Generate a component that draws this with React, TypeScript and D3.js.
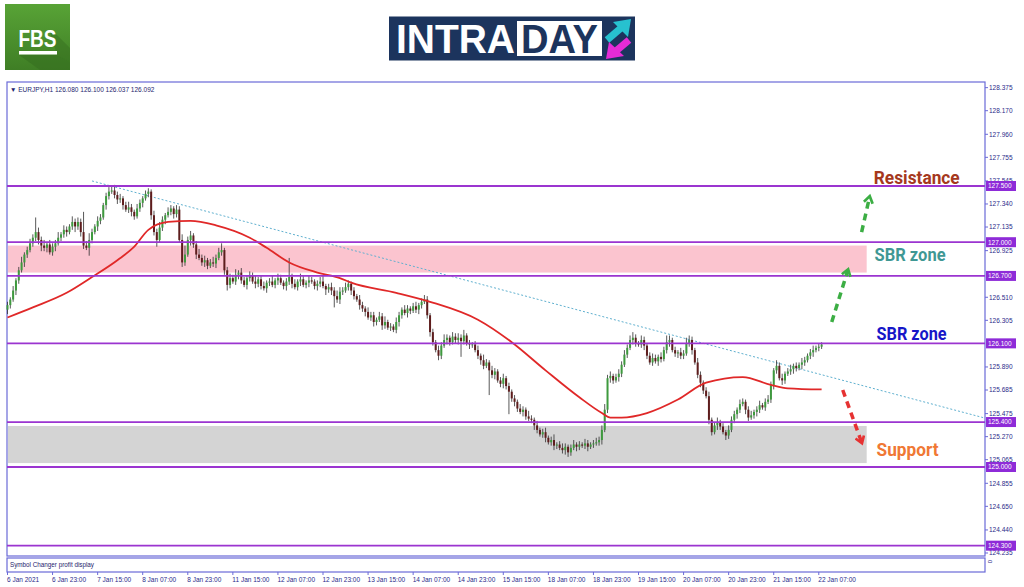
import React from "react";
import * as d3 from "d3";

// ---------- DATA ----------
const symbolTitle = "▼ EURJPY,H1  126.080 126.100 126.037 126.092";
const firstOpen = 126.4;
const closes = [
  126.44,126.49,126.57,126.66,126.75,126.82,126.89,126.93,126.99,127.04,
  127.09,127.02,126.97,126.95,126.98,126.91,126.96,126.99,127.04,127.07,
  127.11,127.09,127.14,127.18,127.14,127.18,127.09,126.97,126.95,127.02,
  127.09,127.14,127.19,127.22,127.33,127.41,127.45,127.46,127.42,127.38,
  127.39,127.33,127.29,127.31,127.27,127.23,127.30,127.35,127.39,127.43,
  127.45,127.24,127.09,127.02,127.13,127.20,127.24,127.27,127.30,127.25,
  127.29,127.02,126.82,126.89,127.02,127.06,126.98,126.89,126.86,126.82,
  126.84,126.79,126.82,126.81,126.86,126.91,126.93,126.75,126.62,126.68,
  126.65,126.71,126.73,126.66,126.62,126.68,126.70,126.65,126.63,126.67,
  126.61,126.59,126.64,126.65,126.62,126.66,126.68,126.64,126.61,126.65,
  126.69,126.63,126.60,126.65,126.67,126.62,126.64,126.66,126.65,126.61,
  126.63,126.65,126.61,126.58,126.60,126.57,126.52,126.49,126.56,126.57,
  126.60,126.63,126.57,126.52,126.49,126.44,126.41,126.38,126.33,126.35,
  126.29,126.31,126.34,126.26,126.29,126.24,126.25,126.22,126.29,126.35,
  126.40,126.37,126.41,126.39,126.43,126.40,126.44,126.47,126.49,126.35,
  126.20,126.11,126.04,125.99,126.08,126.13,126.15,126.11,126.16,126.13,
  126.15,126.12,126.17,126.10,126.09,126.09,126.04,125.99,125.95,125.90,
  125.93,125.86,125.82,125.85,125.77,125.74,125.79,125.72,125.67,125.61,
  125.58,125.52,125.49,125.51,125.45,125.43,125.42,125.37,125.33,125.29,
  125.31,125.26,125.22,125.24,125.19,125.20,125.17,125.15,125.18,125.13,
  125.17,125.20,125.18,125.20,125.19,125.21,125.18,125.20,125.21,125.22,
  125.24,125.33,125.51,125.79,125.81,125.77,125.80,125.83,125.91,126.00,
  126.06,126.13,126.15,126.10,126.09,126.13,126.08,125.99,125.93,125.97,
  125.94,125.98,125.96,126.04,126.11,126.13,126.04,126.01,126.02,125.99,
  126.01,126.10,126.13,126.04,125.93,125.82,125.75,125.68,125.63,125.42,
  125.31,125.37,125.40,125.36,125.31,125.28,125.33,125.42,125.47,125.51,
  125.56,125.58,125.51,125.44,125.46,125.49,125.51,125.55,125.53,125.58,
  125.60,125.73,125.86,125.90,125.79,125.77,125.83,125.85,125.87,125.90,
  125.88,125.91,125.93,125.95,125.99,126.02,126.04,126.06,126.07,126.09,
];
// wick lengths beyond the body, in hundredths of a yen
const wickUp = [
  3,2,4,2,3,5,2,3,4,3, 13,4,3,5,2,4,3,3,5,2, 4,3,2,5,3,4,3,18,4,6, 3,2,4,3,2,3,4,4,5,3,
  4,2,3,5,3,2,4,3,2,3, 3,2,4,3,5,3,2,4,3,2, 4,3,5,8,3,4,2,3,5,3, 4,2,3,5,3,4,6,2,3,4,
  3,5,2,4,3,2,4,3,5,2, 3,4,2,3,5,2,4,3,2,3, 17,3,4,2,5,3,2,4,3,2, 3,4,5,2,3,4,3,5,4,3,
  4,3,2,3,2,4,3,2,4,3, 3,2,4,3,5,2,3,2,4,3, 2,4,3,2,3,4,2,3,4,3, 2,3,2,4,3,5,3,2,4,3,
  4,3,5,2,3,2,3,4,2,5, 3,2,4,3,2,3,4,2,3,2, 3,2,4,3,2,5,3,2,4,2, 3,4,2,3,5,2,3,4,3,2,
  3,4,2,3,2,4,3,2,3,4, 3,4,5,3,4,2,3,4,3,4, 3,4,5,3,2,4,3,2,3,4, 3,2,4,3,6,4,2,3,2,4,
  3,5,4,3,2,4,3,2,3,4, 2,3,4,2,3,2,4,3,3,2, 4,3,2,3,4,2,3,4,2,3, 4,3,2,5,3,4,2,3,4,2,
  3,2,4,3,2,3,4,2,3,2,
];
const wickDown = [
  4,3,2,4,3,2,4,3,2,3, 3,4,5,3,4,2,3,4,2,3, 3,4,2,3,5,3,4,3,2,7, 3,2,4,3,2,4,3,2,3,4,
  3,4,2,3,4,3,2,3,4,2, 3,4,3,6,2,3,4,2,3,4, 3,2,4,3,2,5,3,4,2,3, 4,3,2,3,4,2,3,4,5,3,
  2,3,4,3,2,4,3,2,4,3, 3,2,4,3,2,3,4,2,3,4, 3,4,2,3,4,2,3,4,2,3, 4,3,2,5,3,4,10,3,4,3,
  2,3,4,3,2,4,3,4,2,3, 4,3,2,4,3,2,3,2,3,4, 3,2,4,3,2,3,4,3,2,3, 4,3,2,4,3,2,4,3,2,3,
  4,14,3,2,4,3,2,3,4,3, 2,22,3,4,2,3,4,3,20,3, 4,3,2,4,3,2,3,4,3,2, 3,4,2,3,4,3,2,3,4,4,
  3,2,4,3,2,3,4,2,3,2, 3,4,2,3,4,3,2,4,3,2, 3,2,4,3,2,3,4,3,2,3, 2,4,3,2,3,4,2,3,4,3,
  3,2,3,4,2,3,4,3,2,4, 3,2,4,3,2,4,3,2,3,4, 3,2,4,3,2,3,4,3,2,3, 2,3,4,3,2,4,3,2,3,4,
  3,2,4,3,2,3,4,2,3,2,
];
const maBars = [0,9,21,30,39,45,50,57,65,74,86,92,100,110,118,122,138,150,167,179,191,203,211,214,218,227,238,248,261,271,277,289];
const maValues = [126.33,126.42,126.55,126.69,126.84,126.96,127.11,127.18,127.19,127.15,127.04,126.95,126.82,126.73,126.68,126.64,126.55,126.47,126.31,126.11,125.86,125.62,125.48,125.44,125.44,125.48,125.60,125.75,125.80,125.73,125.70,125.69];
const trendBars = [30, 347];
const trendPrices = [127.545, 125.435];
const levels = [127.5, 127.0, 126.7, 126.1, 125.4, 125.0, 124.3];
const levelLabels = ["127.500","127.000","126.700","126.100","125.400","125.000","124.300"];
const priceTicks = [128.375,128.17,127.96,127.755,127.545,127.34,127.135,126.925,126.51,126.305,125.89,125.685,125.475,125.27,125.065,124.855,124.65,124.44,124.235];
const priceTickLabels = ["128.375","128.170","127.960","127.755","127.545","127.340","127.135","126.925","126.510","126.305","125.890","125.685","125.475","125.270","125.065","124.855","124.650","124.440","124.235"];
const timeTickBars = [0,16,32,48,64,80,96,112,128,144,160,176,192,208,224,240,256,272,288];
const timeLabels = ["6 Jan 2021","6 Jan 23:00","7 Jan 15:00","8 Jan 07:00","8 Jan 23:00","11 Jan 15:00","12 Jan 07:00","12 Jan 23:00","13 Jan 15:00","14 Jan 07:00","14 Jan 23:00","15 Jan 15:00","18 Jan 07:00","18 Jan 23:00","19 Jan 15:00","20 Jan 07:00","20 Jan 23:00","21 Jan 15:00","22 Jan 07:00"];
const sbrZoneUpper = [126.73, 126.97];
const supportZone = [125.035, 125.365];
const zoneEndBar = 305;
const upArrows = [
  { from: [292.6, 126.29], to: [298.3, 126.75] },
  { from: [303.2, 127.09], to: [306.0, 127.40] },
];
const downArrow = { from: [296.5, 125.685], to: [303.2, 125.22] };
const annotations = [
  { text: "Resistance", bar: 307.5, price: 127.515, color: "#a5381d", len: 86 },
  { text: "SBR zone", bar: 307.8, price: 126.83, color: "#3f9894", len: 71 },
  { text: "SBR zone", bar: 308.5, price: 126.13, color: "#1616c8", len: 70 },
  { text: "Support", bar: 308.5, price: 125.1, color: "#f07834", len: 62 },
];

// ---------- LAYOUT ----------
const W = 1024, H = 587;
const L = 7, R = 985, T = 82, B = 556;

export default function App() {
  const x = d3.scaleLinear().domain([0, 347]).range([7.5, 985]);
  const y = d3.scaleLinear().domain([125.0, 127.5]).range([467, 186]);

  const candles = closes.map((c, i) => {
    const o = i === 0 ? firstOpen : closes[i - 1];
    const hi = Math.max(o, c) + wickUp[i] / 100;
    const lo = Math.min(o, c) - wickDown[i] / 100;
    return { i, o, c, hi, lo };
  });

  const maLine = d3
    .line<number>()
    .x((_, i) => x(maBars[i]))
    .y((v) => y(v))
    .curve(d3.curveMonotoneX)(maValues) || "";

  const fontAxis = "'Liberation Sans', Arial, sans-serif";
  const axisColor = "#6a6ad8";
  const textColor = "#2a2a8a";
  const levelColor = "#9b35d0";
  const boxColor = "#8e2bd8";

  return (
    <div style={{ position: "absolute", left: 0, top: 0, width: W, height: H, background: "#fff" }}>
      <svg width={W} height={H} style={{ display: "block" }}>
        <defs>
          <linearGradient id="fbsg" x1="0" y1="0" x2="0" y2="1">
            <stop offset="0" stopColor="#58a336" />
            <stop offset="1" stopColor="#3f7e25" />
          </linearGradient>
          <marker id="headG" viewBox="0 0 10 10" refX="6" refY="5" markerWidth="3.2" markerHeight="3.2" orient="auto">
            <path d="M1,1 L7,5 L1,9" fill="none" stroke="#3cae44" strokeWidth="2.4" />
          </marker>
          <marker id="headR" viewBox="0 0 10 10" refX="6" refY="5" markerWidth="3.2" markerHeight="3.2" orient="auto">
            <path d="M1,1 L7,5 L1,9" fill="none" stroke="#e63232" strokeWidth="2.4" />
          </marker>
        </defs>
        <rect x={0} y={0} width={W} height={H} fill="#fff" />

        {/* FBS logo */}
        <rect x={5} y={4} width={65} height={66} fill="url(#fbsg)" />
        <polygon points="19,55 57,55 70,62 70,70 40,70" fill="#356d1f" opacity={0.55} />
        <polygon points="50,32 57,35 70,48 70,62 57,55" fill="#356d1f" opacity={0.45} />
        <text x={37.5} y={47} textAnchor="middle" fontFamily="'Liberation Sans Narrow', 'Liberation Sans', Arial, sans-serif" fontWeight={700} fontSize={23} fill="#fff" textLength={38} lengthAdjust="spacingAndGlyphs">FBS</text>
        <rect x={19} y={51} width={38} height={3.5} fill="#fff" />

        {/* INTRADAY banner */}
        <rect x={389} y={16.5} width={246} height={44} fill="#1c345d" />
        <text x={396} y={53} fontFamily="'Liberation Sans', Arial, sans-serif" fontWeight={700} fontSize={41} fill="#fff" textLength={119} lengthAdjust="spacingAndGlyphs">INTRA</text>
        <rect x={517} y={21} width={85} height={35} fill="#fff" />
        <text x={521} y={53} fontFamily="'Liberation Sans', Arial, sans-serif" fontWeight={700} fontSize={41} fill="#1c345d" textLength={77} lengthAdjust="spacingAndGlyphs">DAY</text>
        <line x1={607} y1={40} x2={621} y2={28} stroke="#27c1cf" strokeWidth={7} />
        <polygon points="631,19 613,22 628,37" fill="#27c1cf" />
        <line x1={629} y1={40} x2={616} y2={51} stroke="#e52bd6" strokeWidth={7} />
        <polygon points="606,59 609,42 624,56" fill="#e52bd6" />

        {/* main panel */}
        <rect x={L} y={T} width={R - L} height={B - T} fill="#fff" stroke={axisColor} strokeWidth={1.2} />
        <text x={10} y={91.5} fontFamily={fontAxis} fontSize={6.5} fill="#1e1e6e">{symbolTitle}</text>

        {/* zones */}
        <rect x={L + 1} y={y(sbrZoneUpper[1])} width={x(zoneEndBar) - L - 1} height={y(sbrZoneUpper[0]) - y(sbrZoneUpper[1])} fill="#fbc4cf" />
        <rect x={L + 1} y={y(supportZone[1])} width={x(zoneEndBar) - L - 1} height={y(supportZone[0]) - y(supportZone[1])} fill="#d4d4d4" />

        {/* trendline */}
        <line x1={x(trendBars[0])} y1={y(trendPrices[0])} x2={x(trendBars[1])} y2={y(trendPrices[1])} stroke="#5fb0cf" strokeWidth={1} strokeDasharray="2,2" />

        {/* candles */}
        {candles.map((d) => {
          const cx = x(d.i);
          const up = d.c >= d.o;
          const top = y(Math.max(d.o, d.c));
          const bot = y(Math.min(d.o, d.c));
          return (
            <g key={d.i}>
              <line x1={cx} x2={cx} y1={y(d.hi)} y2={y(d.lo)} stroke="#2f2f2f" strokeWidth={0.8} />
              <rect x={cx - 1} y={top} width={2} height={Math.max(0.8, bot - top)} fill={up ? "#3e9a3e" : "#5e1d1d"} />
            </g>
          );
        })}

        {/* moving average */}
        <path d={maLine} fill="none" stroke="#e02828" strokeWidth={1.8} />

        {/* horizontal levels */}
        {levels.map((lv) => (
          <line key={lv} x1={L} x2={R} y1={y(lv)} y2={y(lv)} stroke={levelColor} strokeWidth={1.8} />
        ))}

        {/* annotation arrows */}
        {upArrows.map((a, k) => (
          <line key={k} x1={x(a.from[0])} y1={y(a.from[1])} x2={x(a.to[0])} y2={y(a.to[1])} stroke="#3cae44" strokeWidth={3.5} strokeDasharray="7,5" markerEnd="url(#headG)" />
        ))}
        <line x1={x(downArrow.from[0])} y1={y(downArrow.from[1])} x2={x(downArrow.to[0])} y2={y(downArrow.to[1])} stroke="#e63232" strokeWidth={3.5} strokeDasharray="7,5" markerEnd="url(#headR)" />

        {/* annotation texts */}
        {annotations.map((a, k) => (
          <text key={k} x={x(a.bar)} y={y(a.price)} fontFamily="Roboto, 'Noto Sans', sans-serif" fontWeight={700} fontSize={18} fill={a.color} textLength={a.len} lengthAdjust="spacingAndGlyphs">{a.text}</text>
        ))}

        {/* right price axis */}
        {priceTicks.map((p, k) => (
          <g key={p}>
            <line x1={R} x2={R + 3} y1={y(p)} y2={y(p)} stroke={axisColor} strokeWidth={1} />
            <text x={R + 4} y={y(p) + 2.3} fontFamily={fontAxis} fontSize={6.5} fill={textColor}>{priceTickLabels[k]}</text>
          </g>
        ))}
        {levels.map((lv, k) => (
          <g key={"b" + lv}>
            <rect x={R + 1} y={y(lv) - 5} width={30} height={10} fill={boxColor} />
            <text x={R + 3} y={y(lv) + 2.4} fontFamily={fontAxis} fontSize={6.5} fill="#fff">{levelLabels[k]}</text>
          </g>
        ))}

        {/* sub panel */}
        <rect x={L} y={558} width={R - L} height={14} fill="#fff" stroke={axisColor} strokeWidth={1.2} />
        <text x={10} y={566.5} fontFamily={fontAxis} fontSize={6.3} fill="#1e1e6e">Symbol Changer profit display</text>
        <text x={0} y={0} transform={`translate(${R + 3},560) rotate(90)`} fontFamily={fontAxis} fontSize={6} fill={textColor}>0</text>

        {/* time axis */}
        {timeTickBars.map((b, k) => (
          <g key={b}>
            <line x1={x(b)} x2={x(b)} y1={572} y2={575} stroke={axisColor} strokeWidth={1} />
            <text x={x(b) - 0.5} y={581.5} fontFamily={fontAxis} fontSize={6.5} fill={textColor}>{timeLabels[k]}</text>
          </g>
        ))}
      </svg>
    </div>
  );
}
